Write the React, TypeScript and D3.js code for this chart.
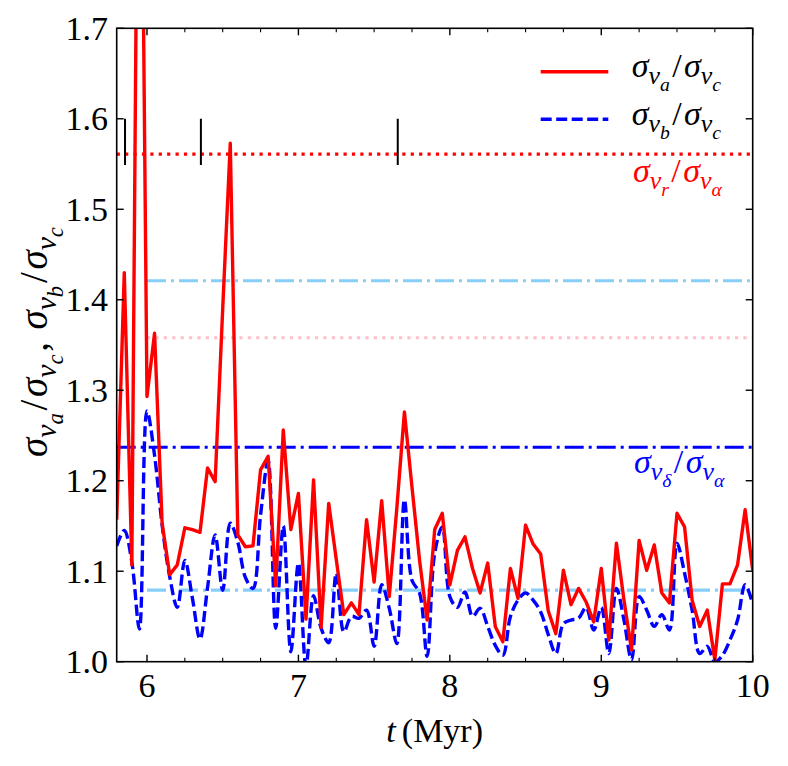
import React from 'react';
import * as d3 from 'd3';

// sample times (Myr)
const times = [
  5.8, 5.85, 5.9, 5.95, 6.0, 6.05, 6.1, 6.15, 6.2, 6.25, 6.3, 6.35, 6.4, 6.45, 6.5, 6.55, 6.6,
  6.65, 6.7, 6.75, 6.8, 6.85, 6.9, 6.95, 7.0, 7.05, 7.1, 7.15, 7.2, 7.25, 7.3, 7.35, 7.4, 7.45,
  7.5, 7.55, 7.6, 7.65, 7.7, 7.75, 7.8, 7.85, 7.9, 7.95, 8.0, 8.05, 8.1, 8.15, 8.2, 8.25, 8.3,
  8.35, 8.4, 8.45, 8.5, 8.55, 8.6, 8.65, 8.7, 8.75, 8.8, 8.85, 8.9, 8.95, 9.0, 9.05, 9.1, 9.15,
  9.2, 9.25, 9.3, 9.35, 9.4, 9.45, 9.5, 9.55, 9.6, 9.65, 9.7, 9.75, 9.8, 9.85, 9.9, 9.95, 10.0
];

// sigma_va / sigma_vc
const ratioA = [
  1.157, 1.43, 1.107, 2.2, 1.293, 1.363, 1.153, 1.096, 1.107, 1.148, 1.146, 1.143, 1.214, 1.199,
  1.39, 1.573, 1.14, 1.127, 1.128, 1.212, 1.227, 1.084, 1.256, 1.146, 1.186, 1.047, 1.201, 1.038,
  1.175, 1.113, 1.052, 1.065, 1.052, 1.157, 1.088, 1.178, 1.072, 1.17, 1.276, 1.193, 1.112, 1.046,
  1.146, 1.164, 1.085, 1.123, 1.138, 1.103, 1.076, 1.109, 1.039, 1.022, 1.103, 1.07, 1.151, 1.13,
  1.119, 1.056, 1.031, 1.101, 1.063, 1.081, 1.066, 1.044, 1.103, 1.024, 1.131, 1.068, 1.013, 1.134,
  1.101, 1.129, 1.076, 1.065, 1.164, 1.149, 1.068, 1.039, 1.057, 1.002, 1.086, 1.086, 1.107, 1.168,
  1.101
];

// sigma_vb / sigma_vc
const ratioB = [
  1.128, 1.145, 1.11, 1.036, 1.277, 1.228, 1.151, 1.094, 1.06, 1.112, 1.07, 1.025, 1.082, 1.14,
  1.079, 1.153, 1.132, 1.093, 1.081, 1.162, 1.222, 1.037, 1.15, 1.011, 1.109, 0.995, 1.073, 1.037,
  1.021, 1.098, 1.033, 1.05, 1.048, 1.057, 1.017, 1.085, 1.059, 1.02, 1.179, 1.09, 1.076, 1.006,
  1.12, 1.149, 1.072, 1.06, 1.077, 1.05, 1.059, 1.039, 1.018, 1.007, 1.05, 1.068, 1.076, 1.068,
  1.055, 1.03, 1.009, 1.042, 1.046, 1.048, 1.06, 1.035, 1.06, 1.009, 1.081, 1.046, 1.002, 1.072,
  1.057, 1.039, 1.052, 1.035, 1.131, 1.098, 1.057, 1.009, 1.017, 1.0, 1.007, 1.024, 1.046, 1.085,
  1.064
];

// horizontal reference levels and where they start
const refValues = [1.561, 1.421, 1.358, 1.237, 1.079];
const refStarts = [5.8, 6.0, 6.0, 5.8, 6.0];

// short black markers
const markerTimes = [5.855, 6.356, 7.656];
const markerRange = [1.549, 1.6];

const xTickValues = [6, 7, 8, 9, 10];
const yTickValues = [1.0, 1.1, 1.2, 1.3, 1.4, 1.5, 1.6, 1.7];

type Part = [string, number, boolean?];

function MathText(props: {
  x: number;
  y: number;
  size: number;
  fill: string;
  parts: Part[];
  transform?: string;
  anchor?: string;
}) {
  const off = [0, 0.22, 0.4];
  const scale = [1, 0.76, 0.58];
  const { x, y, size, fill, parts, transform, anchor } = props;
  return (
    <text
      x={x}
      y={y}
      fill={fill}
      fontSize={size}
      fontFamily="serif"
      transform={transform}
      textAnchor={anchor || 'start'}
    >
      {parts.map(([t, lvl, up], i) => {
        const prev = i ? parts[i - 1][1] : 0;
        const dy = (off[lvl] - off[prev]) * size;
        return (
          <tspan
            key={i}
            dy={dy}
            dx={lvl === 0 && i > 0 ? size * 0.07 : 0}
            fontSize={size * scale[lvl]}
            fontStyle={up ? 'normal' : 'italic'}
          >
            {t}
          </tspan>
        );
      })}
    </text>
  );
}

const frac = (a: string, b: string): Part[] => [
  ['σ', 0],
  ['v', 1],
  [a, 2],
  ['/', 0, true],
  ['σ', 0],
  ['v', 1],
  [b, 2]
];

export default function App(): JSX.Element {
  const width = 788;
  const height = 766;
  const left = 116.7;
  const right = 752.7;
  const top = 28.3;
  const bottom = 661.7;

  const x = d3.scaleLinear().domain([5.8, 10]).range([left, right]);
  const y = d3.scaleLinear().domain([1.0, 1.7]).range([bottom, top]);

  const pts = (vals: number[]) => times.map((t, i) => [t, vals[i]] as [number, number]);
  const lineA = d3
    .line<[number, number]>()
    .x((d) => x(d[0]))
    .y((d) => y(d[1]));
  const lineB = d3
    .line<[number, number]>()
    .x((d) => x(d[0]))
    .y((d) => y(d[1]))
    .curve(d3.curveCatmullRom.alpha(0.5));

  const refStyles = [
    { color: '#ff0000', dash: '3.2 5.2' },
    { color: '#87cefa', dash: '19 5 3 5' },
    { color: '#ffc0cb', dash: '3.2 5.2' },
    { color: '#0000ff', dash: '19 5 3 5' },
    { color: '#87cefa', dash: '19 5 3 5' }
  ];

  const xMinor = d3.range(6, 10.001, 0.25).filter((v) => !xTickValues.includes(v));

  return (
    <svg width={width} height={height} fontFamily="serif" style={{ marginLeft: -8, marginTop: -8 }}>
      <defs>
        <clipPath id="plotClip">
          <rect x={left} y={top} width={right - left} height={bottom - top} />
        </clipPath>
      </defs>

      <g clipPath="url(#plotClip)">
        {/* horizontal reference levels */}
        {refValues.map((v, i) => (
          <line
            key={'ref' + i}
            x1={x(refStarts[i])}
            x2={right}
            y1={y(v)}
            y2={y(v)}
            stroke={refStyles[i].color}
            strokeWidth={3.2}
            strokeDasharray={refStyles[i].dash}
          />
        ))}
        {/* curves */}
        <path
          d={lineB(pts(ratioB)) || ''}
          fill="none"
          stroke="#0000ff"
          strokeWidth={3.4}
          strokeDasharray="11 4.5"
        />
        <path
          d={lineA(pts(ratioA)) || ''}
          fill="none"
          stroke="#ff0000"
          strokeWidth={3.4}
          strokeLinejoin="round"
        />
        {/* markers */}
        {markerTimes.map((t, i) => (
          <line
            key={'m' + i}
            x1={x(t)}
            x2={x(t)}
            y1={y(markerRange[0])}
            y2={y(markerRange[1])}
            stroke="#000"
            strokeWidth={2}
          />
        ))}
      </g>

      {/* frame */}
      <rect
        x={left}
        y={top}
        width={right - left}
        height={bottom - top}
        fill="none"
        stroke="#000"
        strokeWidth={1.6}
      />

      {/* x ticks */}
      {xTickValues.map((t) => (
        <line key={'xt' + t} x1={x(t)} x2={x(t)} y1={bottom} y2={bottom - 7} stroke="#000" strokeWidth={1.4} />
      ))}
      {xTickValues.map((t) => (
        <line key={'xtt' + t} x1={x(t)} x2={x(t)} y1={top} y2={top + 7} stroke="#000" strokeWidth={1.4} />
      ))}
      {xMinor.map((t) => (
        <line key={'xm' + t} x1={x(t)} x2={x(t)} y1={bottom} y2={bottom - 4} stroke="#000" strokeWidth={1.1} />
      ))}
      {xMinor.map((t) => (
        <line key={'xmt' + t} x1={x(t)} x2={x(t)} y1={top} y2={top + 4} stroke="#000" strokeWidth={1.1} />
      ))}
      {xTickValues.map((t) => (
        <text key={'xl' + t} x={x(t)} y={697} textAnchor="middle" fontSize={34} fontFamily="serif">
          {String(t)}
        </text>
      ))}

      {/* y ticks */}
      {yTickValues.map((v) => (
        <line key={'yt' + v} x1={left} x2={left + 7} y1={y(v)} y2={y(v)} stroke="#000" strokeWidth={1.4} />
      ))}
      {yTickValues.map((v) => (
        <line key={'ytr' + v} x1={right} x2={right - 7} y1={y(v)} y2={y(v)} stroke="#000" strokeWidth={1.4} />
      ))}
      {yTickValues.map((v) => (
        <text key={'yl' + v} x={108} y={y(v) + 11.5} textAnchor="end" fontSize={34} fontFamily="serif">
          {v.toFixed(1)}
        </text>
      ))}

      {/* axis labels */}
      <text x={434.7} y={742} textAnchor="middle" fontSize={34} fontFamily="serif">
        <tspan fontStyle="italic">t</tspan>
        <tspan dx={6}>(Myr)</tspan>
      </text>
      <MathText
        x={0}
        y={0}
        size={39}
        fill="#000"
        anchor="middle"
        transform="translate(47,342) rotate(-90)"
        parts={[...frac('a', 'c'), [', ', 0, true], ...frac('b', 'c')]}
      />

      {/* legend */}
      <line x1={540.7} x2={608.3} y1={71.7} y2={71.7} stroke="#ff0000" strokeWidth={3.4} />
      <line
        x1={540.7}
        x2={608.3}
        y1={119.3}
        y2={119.3}
        stroke="#0000ff"
        strokeWidth={3.4}
        strokeDasharray="11 4.5"
      />
      <MathText x={631.7} y={77} size={34} fill="#000" parts={frac('a', 'c')} />
      <MathText x={631.7} y={125} size={34} fill="#000" parts={frac('b', 'c')} />

      {/* level annotations */}
      <MathText x={633} y={182} size={34} fill="#ff0000" parts={frac('r', 'α')} />
      <MathText x={634} y={473} size={34} fill="#0000ff" parts={frac('δ', 'α')} />
    </svg>
  );
}
